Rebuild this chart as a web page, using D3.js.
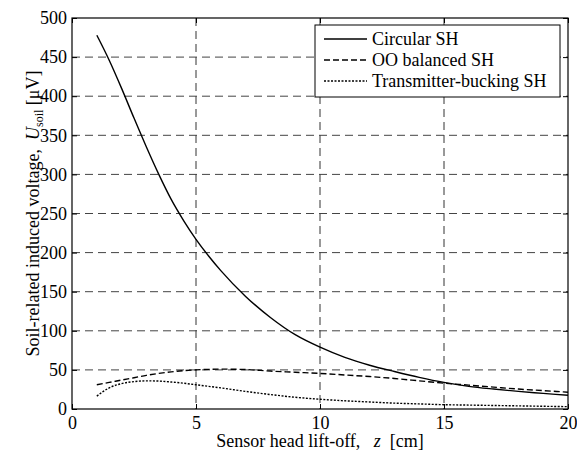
<!DOCTYPE html>
<html>
<head>
<meta charset="utf-8">
<script src="https://cdn.jsdelivr.net/npm/d3@7"></script>
</head>
<body style="margin:0; background:#fff">
<svg id="chart" width="577" height="453"></svg>
<script>
// lift-off z [cm]
const liftOff = [1, 1.5, 2, 2.5, 3, 3.5, 4, 4.5, 5, 5.5, 6, 7, 8, 9, 10, 11, 12, 13, 14, 15, 16, 17, 18, 19, 20];
const circular = [478, 446, 410, 372, 335, 300, 268, 241, 217, 196, 177, 144, 117, 95, 79, 66, 56, 48, 40.5, 34, 29, 25.5, 22.5, 20, 17.5];
const ooBalanced = [31, 34, 37, 40, 43, 45.5, 47.5, 49, 50, 50.7, 51, 50.5, 48.5, 47, 45.5, 43.5, 41.5, 39, 36, 33, 30.5, 28, 25.5, 23.5, 21.5];
const txBucking = [16.5, 27, 32.5, 35, 36, 35.7, 34.5, 33, 31, 29, 27, 22.5, 18.5, 15, 12.5, 10.5, 9, 7.5, 6.5, 5.5, 5, 4.5, 4, 3.5, 3];
const xTicks = [0, 5, 10, 15, 20];
const yTicks = [0, 50, 100, 150, 200, 250, 300, 350, 400, 450, 500];
const seriesNames = ["Circular SH", "OO balanced SH", "Transmitter-bucking SH"];

const font = "Liberation Serif";
const svg = d3.select("#chart").attr("font-family", font);
const margin = { top: 18, right: 9, bottom: 44, left: 72 };
const width = 577 - margin.left - margin.right;
const height = 453 - margin.top - margin.bottom;

const g = svg.append("g")
    .attr("transform", `translate(${margin.left},${margin.top})`);

const x = d3.scaleLinear().domain([0, 20]).range([0, width]);
const y = d3.scaleLinear().domain([0, 500]).range([height, 0]);

// grid
g.selectAll(".vgrid")
    .data(xTicks.slice(1, -1))
    .enter().append("line")
    .attr("x1", d => x(d)).attr("x2", d => x(d))
    .attr("y1", 0).attr("y2", height)
    .attr("stroke", "#333").attr("stroke-width", 1)
    .attr("stroke-dasharray", "8,5");

g.selectAll(".hgrid")
    .data(yTicks.slice(1, -1))
    .enter().append("line")
    .attr("x1", 0).attr("x2", width)
    .attr("y1", d => y(d)).attr("y2", d => y(d))
    .attr("stroke", "#444").attr("stroke-width", 1)
    .attr("stroke-dasharray", "8,5");

// axes (inward ticks, both sides)
const tick = 5;
const bottom = g.append("g")
    .attr("transform", `translate(0,${height})`)
    .call(d3.axisBottom(x).tickValues(xTicks).tickSizeInner(-tick).tickSizeOuter(0).tickPadding(7));
const left = g.append("g")
    .call(d3.axisLeft(y).tickValues(yTicks).tickSizeInner(-tick).tickSizeOuter(0).tickPadding(5));
g.append("g")
    .call(d3.axisTop(x).tickValues(xTicks).tickSizeInner(-tick).tickSizeOuter(0).tickFormat(""));
g.append("g")
    .attr("transform", `translate(${width},0)`)
    .call(d3.axisRight(y).tickValues(yTicks).tickSizeInner(-tick).tickSizeOuter(0).tickFormat(""));

g.selectAll(".domain").remove();
g.selectAll(".tick line").attr("stroke", "#000");
[bottom, left].forEach(a => {
    a.attr("font-family", font).attr("font-size", 18);
    a.selectAll("text").attr("fill", "#000");
});

g.append("rect")
    .attr("width", width).attr("height", height)
    .attr("fill", "none").attr("stroke", "#000").attr("stroke-width", 1.2);

// curves
const line = d3.line()
    .x((d, i) => x(liftOff[i]))
    .y(d => y(d))
    .curve(d3.curveMonotoneX);

const styles = [
    { data: circular, dash: null },
    { data: ooBalanced, dash: "6,3" },
    { data: txBucking, dash: "2,1.5" }
];

styles.forEach(s => {
    g.append("path")
        .datum(s.data)
        .attr("d", line)
        .attr("fill", "none")
        .attr("stroke", "#000")
        .attr("stroke-width", 1.4)
        .attr("stroke-dasharray", s.dash);
});

// legend
const lg = g.append("g").attr("transform", `translate(243,7)`);
lg.append("rect")
    .attr("width", 245).attr("height", 72)
    .attr("fill", "#fff").attr("stroke", "#000").attr("stroke-width", 1);
seriesNames.forEach((name, i) => {
    const yy = 14 + i * 21;
    lg.append("line")
        .attr("x1", 9).attr("x2", 52)
        .attr("y1", yy).attr("y2", yy)
        .attr("stroke", "#000").attr("stroke-width", 1.4)
        .attr("stroke-dasharray", styles[i].dash);
    lg.append("text")
        .attr("x", 57).attr("y", yy + 6)
        .attr("font-family", font)
        .attr("font-size", 18)
        .text(name);
});

// axis labels
const xl = svg.append("text")
    .attr("x", margin.left + width / 2)
    .attr("y", 447)
    .attr("text-anchor", "middle")
    .attr("xml:space", "preserve")
    .attr("font-family", font)
    .attr("font-size", 18);
xl.append("tspan").text("Sensor head lift-off,   ");
xl.append("tspan").attr("font-style", "italic").text("z");
xl.append("tspan").text("  [cm]");

const yl = svg.append("text")
    .attr("transform", `translate(39,${margin.top + height / 2}) rotate(-90)`)
    .attr("text-anchor", "middle")
    .attr("xml:space", "preserve")
    .attr("font-family", font)
    .attr("font-size", 18);
yl.append("tspan").text("Soil-related induced voltage,  ");
yl.append("tspan").attr("font-style", "italic").text("U");
yl.append("tspan").attr("dy", 4).attr("font-size", 12).text("soil");
yl.append("tspan").attr("dy", -4).text(" [μV]");
</script>
</body>
</html>
